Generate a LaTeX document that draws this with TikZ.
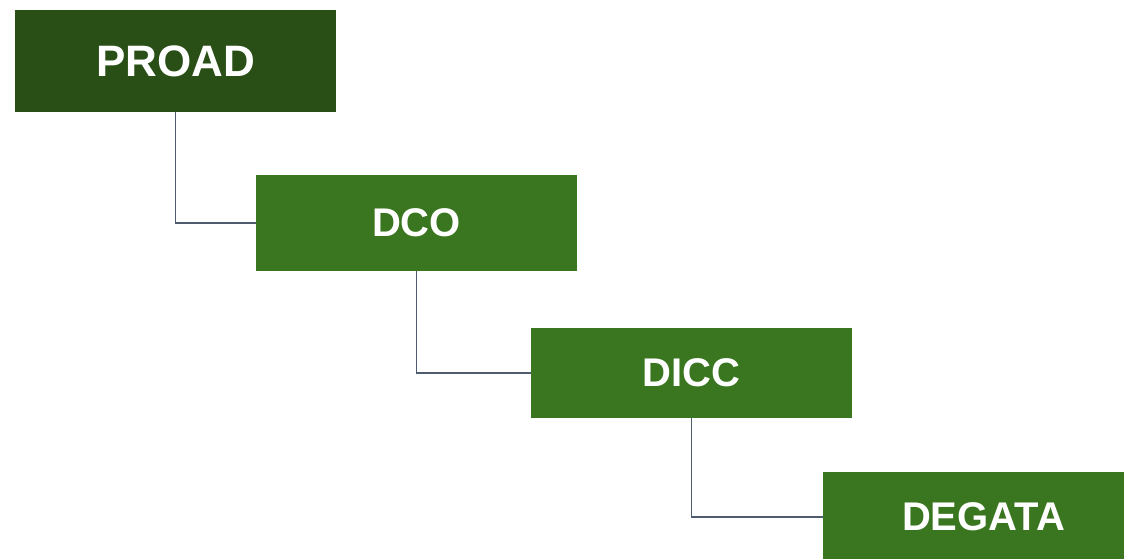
\documentclass[tikz,border=0pt]{standalone}
\usepackage{fontspec}
\setmainfont{Liberation Sans}
\definecolor{darkleaf}{HTML}{294F16}
\definecolor{leaf}{HTML}{3A761F}
\definecolor{slate}{HTML}{4F5B6E}

\begin{document}
\begin{tikzpicture} [x=1pt,y=1pt,
  unit/.style= {shape=rectangle,minimum width=321pt,inner sep=0,fill=leaf,text=white,font=\fontsize{40}{40}\selectfont\bfseries},
  link/.style= {draw=slate,line width=1.6pt}]
\useasboundingbox (0,0) rectangle (1124,-558);
\begin{scope}
\clip (0,0) rectangle (1124,-558);
\node[unit,fill=darkleaf,minimum height=102pt,font=\fontsize{44}{44}\selectfont\bfseries] (proad) at (175.5,-61) {PROAD};
\node[unit,minimum height=96pt] (dco) at (416.5,-223) {DCO};
\node[unit,minimum height=90pt] (dicc) at (691.5,-373) {DICC};
\node[unit,minimum height=90pt] (degata) at (983.5,-517) {DEGATA};

\draw[link] (proad.south) |- (dco.west);
\draw[link] (dco.south) |- (dicc.west);
\draw[link] (dicc.south) |- (degata.west);
\end{scope}
\end{tikzpicture}
\end{document}
